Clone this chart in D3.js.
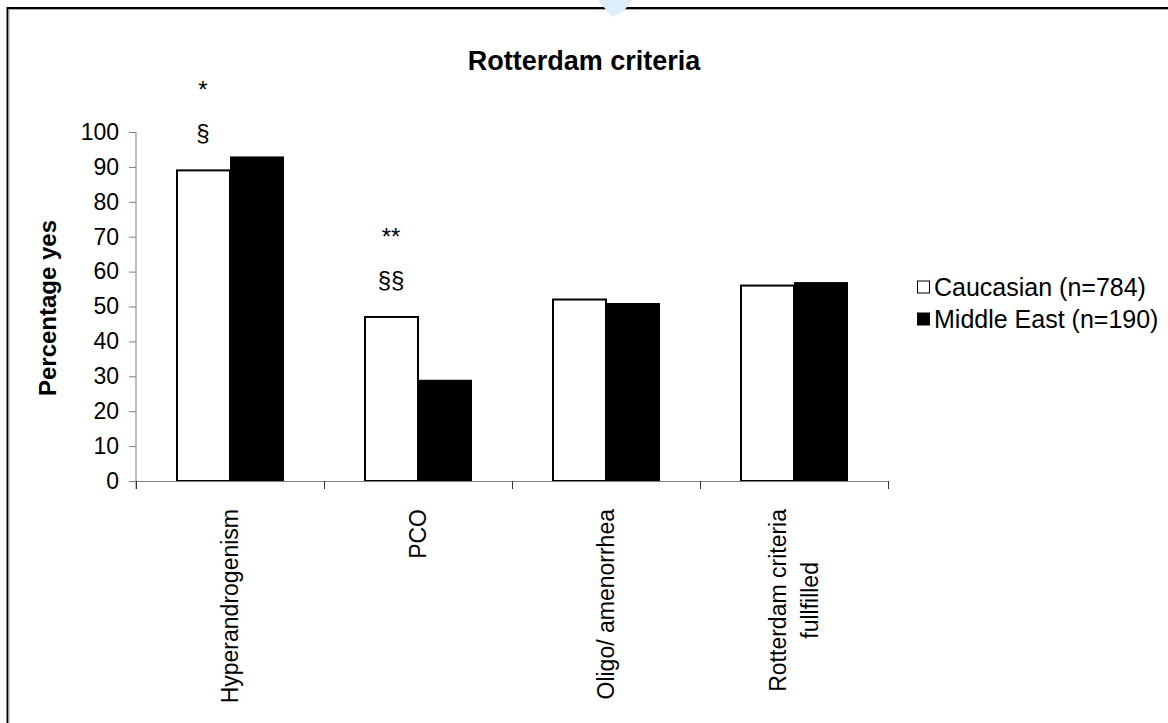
<!DOCTYPE html>
<html>
<head>
<meta charset="utf-8">
<script src="https://cdn.jsdelivr.net/npm/d3@7"></script>
<style>
body { margin: 0; background: #fff; }
text { font-family: "Liberation Sans", Arial, sans-serif; fill: #000; }
</style>
</head>
<body>
<svg id="chart" width="1168" height="723"></svg>
<script>
// data
const categories = [["Hyperandrogenism"], ["PCO"], ["Oligo/ amenorrhea"], ["Rotterdam criteria", "fullfilled"]];
const seriesNames = ["Caucasian (n=784)", "Middle East (n=190)"];
const seriesFill = ["#fff", "#000"];
const caucasian = [89, 47, 52, 56];
const middleEast = [93, 29, 51, 57];
const yTicks = [0, 10, 20, 30, 40, 50, 60, 70, 80, 90, 100];
// significance marks sit above the Caucasian bar
const marks = [
    { cat: 0, lines: ["*", "§"] },
    { cat: 1, lines: ["**", "§§"] }
];

const svg = d3.select("#chart");
const plotLeft = 136, plotRight = 888, plotTop = 132, plotBottom = 481;

// frame of the original figure (only top/left visible)
svg.append("rect").attr("x", 7.5).attr("y", 8).attr("width", 1300).attr("height", 900)
    .attr("fill", "none").attr("stroke", "#000").attr("stroke-width", 2);
svg.append("rect").attr("x", 9).attr("y", 9.5).attr("width", 1300).attr("height", 900)
    .attr("fill", "none").attr("stroke", "#aaa").attr("stroke-width", 1);
// faint watermark blob at top edge
svg.append("path").attr("d", "M598,0 L632,0 L624,11 L612,17 Z").attr("fill", "#dcedfb");

const x0 = d3.scaleBand().domain(d3.range(categories.length)).range([plotLeft, plotRight])
    .paddingInner(80 / 188).paddingOuter(40 / 188);
const x1 = d3.scaleBand().domain([0, 1]).range([0, x0.bandwidth()]);
const y = d3.scaleLinear().domain([0, 100]).range([plotBottom, plotTop]);
const xEdge = d3.scaleLinear().domain([0, categories.length]).range([plotLeft, plotRight]);

// title
svg.append("text").attr("x", 584).attr("y", 70).attr("text-anchor", "middle")
    .style("font-size", "27px").style("font-weight", "bold").text("Rotterdam criteria");

// y axis
const yAxis = svg.append("g").attr("transform", "translate(" + plotLeft + ",0)")
    .call(d3.axisLeft(y).tickValues(yTicks).tickSize(7).tickPadding(10));
yAxis.select(".domain").attr("stroke", "#808080").attr("d", "M0," + plotTop + "V" + (plotBottom + 8));
yAxis.selectAll(".tick line").attr("stroke", "#808080");
yAxis.selectAll(".tick text").style("font-size", "23px").attr("fill", "#000");

svg.append("text").attr("transform", "translate(56,308)rotate(-90)").attr("text-anchor", "middle")
    .style("font-size", "24px").style("font-weight", "bold").text("Percentage yes");

// bars
const data = categories.map((c, i) => [caucasian[i], middleEast[i]]);
const groups = svg.append("g").selectAll("g").data(data).enter().append("g")
    .attr("transform", (d, i) => "translate(" + x0(i) + ",0)");
groups.selectAll("rect").data(d => d).enter().append("rect")
    .attr("x", (d, j) => x1(j) + (j === 0 ? 1 : 0))
    .attr("y", d => y(d))
    .attr("width", (d, j) => x1.bandwidth() - (j === 0 ? 1 : 0))
    .attr("height", d => plotBottom - y(d))
    .attr("fill", (d, j) => seriesFill[j])
    .attr("stroke", (d, j) => j === 0 ? "#000" : "none")
    .attr("stroke-width", 2);

// x axis with ticks at category boundaries
const xAxis = svg.append("g").attr("transform", "translate(0," + plotBottom + ")")
    .call(d3.axisBottom(xEdge).tickValues(d3.range(categories.length + 1)).tickSize(8).tickFormat(""));
xAxis.select(".domain").attr("stroke", "#808080").attr("d", "M" + plotLeft + ",0.5H" + plotRight);
xAxis.selectAll(".tick line").attr("stroke", "#333");

// category labels, rotated
const lineGap = 32;
const labels = svg.append("g").selectAll("text").data(categories).enter().append("text")
    .attr("transform", (d, i) => "translate(" + (x0(i) + x0.bandwidth() / 2) + ",509)rotate(-90)")
    .attr("text-anchor", "middle")
    .style("font-size", "23px");
labels.each(function (d) {
    const t = d3.select(this);
    d.forEach((line, k) => {
        t.append("tspan").attr("x", 0)
            .attr("y", (k - (d.length - 1) / 2) * lineGap)
            .attr("dy", "0.35em").text(line);
    });
    const w = d3.max(t.selectAll("tspan").nodes(), n => n.getComputedTextLength());
    t.selectAll("tspan").attr("x", -w / 2);
});

// significance marks
const markOffsets = [72, 29];
marks.forEach(m => {
    const cx = x0(m.cat) + x1(0) + x1.bandwidth() / 2;
    m.lines.forEach((s, k) => {
        svg.append("text").attr("x", cx).attr("y", y(caucasian[m.cat]) - markOffsets[k])
            .attr("text-anchor", "middle").style("font-size", "24px").text(s);
    });
});

// legend
const legend = svg.append("g").selectAll("g").data(seriesNames).enter().append("g")
    .attr("transform", (d, i) => "translate(917," + (287 + i * 32) + ")");
legend.append("rect").attr("x", 0.5).attr("y", -6).attr("width", 12).attr("height", 12)
    .attr("fill", (d, i) => seriesFill[i]).attr("stroke", "#000").attr("stroke-width", 1);
legend.append("text").attr("x", 17).attr("dy", "0.35em").style("font-size", "25px").text(d => d);
</script>
</body>
</html>
